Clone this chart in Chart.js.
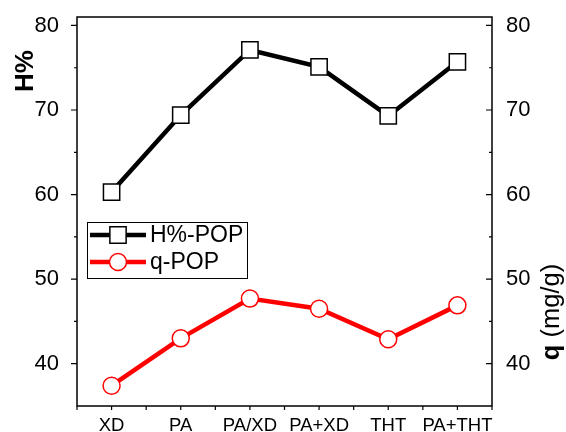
<!DOCTYPE html>
<html>
<head>
<meta charset="utf-8">
<script src="https://cdn.jsdelivr.net/npm/chart.js@4.4.0/dist/chart.umd.min.js"></script>
<style>
  html, body { margin: 0; padding: 0; background: #fff; }
  #wrap { width: 566px; height: 432px; }
</style>
</head>
<body>
<div id="wrap"><canvas id="chart" width="566" height="432"></canvas></div>
<script>
const categories = ['XD', 'PA', 'PA/XD', 'PA+XD', 'THT', 'PA+THT'];
const hPercent = [60.3, 69.4, 77.1, 75.1, 69.3, 75.7];
const qValues = [37.4, 43.0, 47.7, 46.5, 42.9, 46.9];
const yTicks = [40, 45, 50, 55, 60, 65, 70, 75, 80];
const yMin = 35;
const yMax = 81;

const FONT = '"Liberation Sans", Arial, sans-serif';

// frame, tick marks, axis titles and the boxed legend
const decorations = {
  id: 'decorations',
  afterDraw(chart) {
    const { ctx, chartArea: a, scales } = chart;
    ctx.save();
    ctx.strokeStyle = '#000';
    ctx.lineWidth = 1.5;
    ctx.strokeRect(a.left, a.top, a.right - a.left, a.bottom - a.top);

    ctx.lineWidth = 1.2;
    ctx.beginPath();
    // left axis ticks point outward, right axis ticks point inward
    yTicks.forEach(v => {
      const y = scales.y.getPixelForValue(v);
      const len = v % 10 === 0 ? 6 : 3;
      ctx.moveTo(a.left - len, y);
      ctx.lineTo(a.left, y);
      ctx.moveTo(a.right - len, y);
      ctx.lineTo(a.right, y);
    });
    // bottom ticks at each category and between them
    for (let i = -0.5; i <= categories.length - 0.5; i += 0.5) {
      const x = scales.x.getPixelForValue(i);
      ctx.moveTo(x, a.bottom);
      ctx.lineTo(x, a.bottom + 4);
    }
    ctx.stroke();

    // axis titles
    ctx.fillStyle = '#000';
    ctx.textBaseline = 'alphabetic';
    ctx.save();
    ctx.translate(33, 71);
    ctx.rotate(-Math.PI / 2);
    ctx.font = 'bold 26px ' + FONT;
    ctx.textAlign = 'center';
    ctx.fillText('H%', 0, 0);
    ctx.restore();

    ctx.save();
    ctx.translate(559, 312);
    ctx.rotate(-Math.PI / 2);
    const boldPart = 'q';
    const rest = ' (mg/g)';
    ctx.font = 'bold 25.5px ' + FONT;
    const w1 = ctx.measureText(boldPart).width;
    ctx.font = '25.5px ' + FONT;
    const w2 = ctx.measureText(rest).width;
    const x0 = -(w1 + w2) / 2;
    ctx.textAlign = 'left';
    ctx.font = 'bold 25.5px ' + FONT;
    ctx.fillText(boldPart, x0, 0);
    ctx.font = '25.5px ' + FONT;
    ctx.fillText(rest, x0 + w1, 0);
    ctx.restore();

    // legend
    ctx.lineWidth = 1;
    ctx.strokeRect(87.5, 222.5, 160, 56);
    chart.data.datasets.forEach((ds, i) => {
      const y = i === 0 ? 235 : 262;
      ctx.strokeStyle = ds.borderColor;
      ctx.lineWidth = ds.borderWidth;
      ctx.beginPath();
      ctx.moveTo(90, y);
      ctx.lineTo(146, y);
      ctx.stroke();
      ctx.fillStyle = ds.pointBackgroundColor;
      ctx.lineWidth = ds.pointBorderWidth;
      ctx.beginPath();
      if (ds.pointStyle === 'rect') {
        const s = ds.pointRadius * Math.SQRT1_2;
        ctx.rect(118 - s, y - s, 2 * s, 2 * s);
      } else {
        ctx.arc(118, y, ds.pointRadius, 0, Math.PI * 2);
      }
      ctx.fill();
      ctx.stroke();
      ctx.fillStyle = '#000';
      ctx.font = '23px ' + FONT;
      ctx.textAlign = 'left';
      ctx.textBaseline = 'middle';
      ctx.fillText(ds.label, 150, y + 1);
    });
    ctx.restore();
  }
};

const yAxis = (position, padding, width) => ({
  position,
  min: yMin,
  max: yMax,
  afterBuildTicks: s => { s.ticks = yTicks.map(v => ({ value: v })); },
  afterFit: s => { s.width = width; s.paddingTop = 0; s.paddingBottom = 0; },
  grid: { display: false },
  border: { display: false },
  ticks: {
    autoSkip: false,
    padding,
    color: '#000',
    font: { family: FONT, size: 22 },
    callback: v => (v % 10 === 0 ? v : '')
  }
});

new Chart(document.getElementById('chart'), {
  type: 'line',
  data: {
    labels: categories,
    datasets: [
      {
        label: 'H%-POP',
        data: hPercent,
        yAxisID: 'y',
        borderColor: '#000',
        borderWidth: 4.5,
        pointStyle: 'rect',
        pointRadius: 11.5,
        pointBorderWidth: 1.5,
        pointBackgroundColor: '#fff',
        pointBorderColor: '#000',
        tension: 0
      },
      {
        label: 'q-POP',
        data: qValues,
        yAxisID: 'y1',
        borderColor: '#ff0000',
        borderWidth: 4.5,
        pointStyle: 'circle',
        pointRadius: 8.5,
        pointBorderWidth: 1.5,
        pointBackgroundColor: '#fff',
        pointBorderColor: '#ff0000',
        tension: 0
      }
    ]
  },
  options: {
    responsive: false,
    animation: false,
    devicePixelRatio: 1,
    layout: { padding: { top: 17, left: 0, right: 0, bottom: 0 } },
    plugins: { legend: { display: false }, tooltip: { enabled: false } },
    scales: {
      x: {
        offset: true,
        afterFit: s => { s.height = 26; s.paddingLeft = 0; s.paddingRight = 0; },
        grid: { display: false },
        border: { display: false },
        ticks: {
          padding: 1,
          color: '#000',
          maxRotation: 0,
          autoSkip: false,
          font: { family: FONT, size: 18.5 }
        }
      },
      y: yAxis('left', 10, 77),
      y1: yAxis('right', 6, 74)
    }
  },
  plugins: [decorations]
});
</script>
</body>
</html>
